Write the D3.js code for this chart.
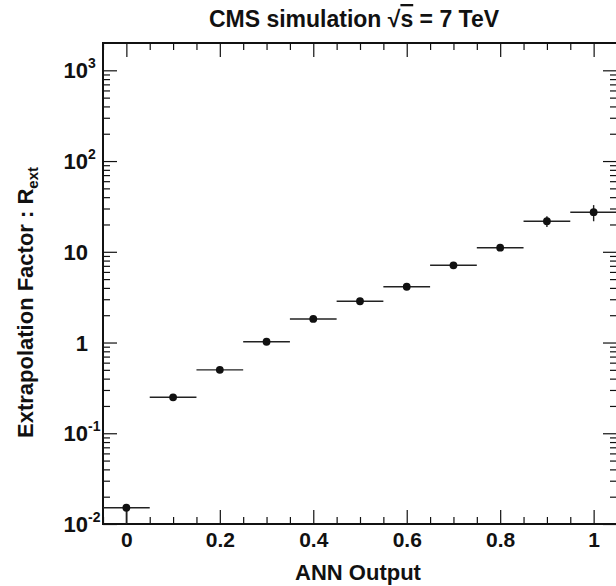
<!DOCTYPE html>
<html>
<head>
<meta charset="utf-8">
<script src="https://cdn.jsdelivr.net/npm/d3@7"></script>
<style>
  body { margin: 0; background: #fff; }
  svg text { font-family: "Liberation Sans", Arial, Helvetica, sans-serif; font-weight: bold; fill: #111; }
</style>
</head>
<body>
<div id="chart"></div>
<script>
// ANN output bins (centres) and extrapolation factor R_ext
const annOutput = [0, 0.1, 0.2, 0.3, 0.4, 0.5, 0.6, 0.7, 0.8, 0.9, 1.0];
const binHalfWidth = [0.05, 0.05, 0.05, 0.05, 0.05, 0.05, 0.05, 0.05, 0.05, 0.05, 0.05];
const rext = [0.0151, 0.249, 0.50, 1.02, 1.82, 2.85, 4.12, 7.1, 11.1, 21.7, 27.3];
const rextErrLow = [0.0099, 0.01, 0.02, 0.03, 0.05, 0.08, 0.15, 0.3, 0.9, 3.0, 5.6];
const rextErrHigh = [0, 0.01, 0.02, 0.03, 0.05, 0.08, 0.15, 0.3, 0.9, 2.9, 5.4];

const xMajorTicks = [0, 0.2, 0.4, 0.6, 0.8, 1.0];
const xTickLabels = ['0', '0.2', '0.4', '0.6', '0.8', '1'];
const yDecades = [-2, -1, 0, 1, 2, 3];
const yTickLabels = [['10', '-2'], ['10', '-1'], ['1', ''], ['10', ''], ['10', '2'], ['10', '3']];

const config_size = {
  svg_width: 616,
  svg_height: 586,
  plot_margin: { left: 103, right: -1, top: 43, bottom: 62 },
};

const svg = d3.select('#chart').append('svg')
  .attr('width', config_size.svg_width)
  .attr('height', config_size.svg_height);

const m = config_size.plot_margin;
const plot_width = config_size.svg_width - m.left - m.right;
const plot_height = config_size.svg_height - m.top - m.bottom;

const x = d3.scaleLinear().domain([-0.05, 1.05]).range([0, plot_width]);
const y = d3.scaleLog().domain([0.01, 2000]).range([plot_height, 0]);

const plot_g = svg.append('g')
  .attr('transform', `translate(${m.left},${m.top})`);

// minor ticks every 0.05 on x, 2..9 per decade on y
const xMinor = d3.range(-0.05, 1.0501, 0.05).map(v => +v.toFixed(2))
  .filter(v => !xMajorTicks.some(t => Math.abs(t - v) < 1e-6));
const yMajor = yDecades.map(e => Math.pow(10, e));
const yMinor = [];
yDecades.forEach(e => d3.range(2, 10).forEach(k => {
  const v = k * Math.pow(10, e);
  if (v < 2000) yMinor.push(v);
}));

function tickAxis(axis, vals, size) {
  return axis.tickValues(vals).tickSizeInner(-size).tickSizeOuter(0).tickFormat('');
}

// bottom / top
plot_g.append('g').attr('transform', `translate(0,${plot_height})`)
  .call(d3.axisBottom(x).tickValues(xMajorTicks).tickSizeInner(-14).tickSizeOuter(0)
    .tickPadding(8).tickFormat((d, i) => xTickLabels[i]))
  .call(g => g.selectAll('text').style('font-size', '21px'));
plot_g.append('g').attr('transform', `translate(0,${plot_height})`)
  .call(tickAxis(d3.axisBottom(x), xMinor, 7));
plot_g.append('g').call(tickAxis(d3.axisTop(x), xMajorTicks, 14));
plot_g.append('g').call(tickAxis(d3.axisTop(x), xMinor, 7));
// left / right
plot_g.append('g').call(tickAxis(d3.axisLeft(y), yMajor, 14));
plot_g.append('g').call(tickAxis(d3.axisLeft(y), yMinor, 7));
plot_g.append('g').attr('transform', `translate(${plot_width},0)`)
  .call(tickAxis(d3.axisRight(y), yMajor, 14));
plot_g.append('g').attr('transform', `translate(${plot_width},0)`)
  .call(tickAxis(d3.axisRight(y), yMinor, 7));

plot_g.selectAll('.domain').remove();
plot_g.selectAll('.tick line').attr('stroke', '#111').attr('stroke-width', 1.2);

// y tick labels with exponents
yMajor.forEach((v, i) => {
  const t = plot_g.append('text')
    .attr('y', y(v) + 8)
    .attr('text-anchor', 'start')
    .style('font-size', '22px');
  t.append('tspan').text(yTickLabels[i][0]);
  if (yTickLabels[i][1]) {
    t.append('tspan').attr('dy', -10).style('font-size', '14px').text(yTickLabels[i][1]);
  }
  // right-align the base number at the same position
  const baseW = t.select('tspan').node().getComputedTextLength();
  t.attr('x', -15 - baseW);
});

// frame (right side lies just outside the picture)
plot_g.append('path')
  .attr('d', `M${plot_width + 2},0H0V${plot_height}H${plot_width + 2}`)
  .attr('fill', 'none').attr('stroke', '#111').attr('stroke-width', 2);

// clip for error bars
plot_g.append('clipPath').attr('id', 'clip')
  .append('rect').attr('width', plot_width).attr('height', plot_height);

const data = annOutput.map((a, i) => ({
  x: a, hw: binHalfWidth[i], v: rext[i], lo: rextErrLow[i], hi: rextErrHigh[i],
}));

const pts = plot_g.append('g').attr('clip-path', 'url(#clip)');
pts.selectAll('line.h').data(data).enter().append('line')
  .attr('x1', d => x(d.x - d.hw)).attr('x2', d => x(d.x + d.hw))
  .attr('y1', d => y(d.v)).attr('y2', d => y(d.v))
  .attr('stroke', '#222').attr('stroke-width', 1.4);
pts.selectAll('line.v').data(data).enter().append('line')
  .attr('x1', d => x(d.x)).attr('x2', d => x(d.x))
  .attr('y1', d => y(Math.max(d.v - d.lo, 1e-4))).attr('y2', d => y(d.v + d.hi))
  .attr('stroke', '#222').attr('stroke-width', 1.4);
pts.selectAll('circle').data(data).enter().append('circle')
  .attr('cx', d => x(d.x)).attr('cy', d => y(d.v)).attr('r', 3.9)
  .attr('fill', '#111');

// titles
const title = svg.append('text')
  .attr('x', 354).attr('y', 27)
  .attr('text-anchor', 'middle')
  .style('font-size', '23px');
title.append('tspan').text('CMS simulation ');
title.append('tspan').text('\u221A');
title.append('tspan').style('text-decoration', 'overline').text('s');
title.append('tspan').text(' = 7 TeV');

svg.append('text')
  .attr('x', 358).attr('y', 580)
  .attr('text-anchor', 'middle')
  .style('font-size', '22px')
  .text('ANN Output');

const ytitle = svg.append('text')
  .attr('transform', 'translate(33,438) rotate(-90)')
  .attr('text-anchor', 'start')
  .style('font-size', '22px');
ytitle.append('tspan').text('Extrapolation Factor : R');
ytitle.append('tspan').attr('dy', 5).style('font-size', '15px').text('ext');
</script>
</body>
</html>
